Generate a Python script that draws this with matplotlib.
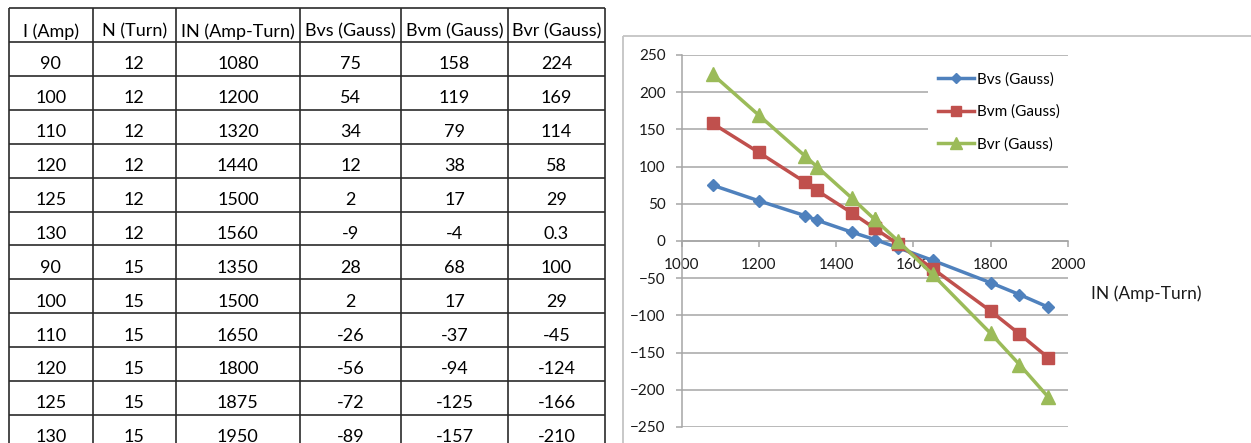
import numpy as np
import matplotlib
matplotlib.use("Agg")
import matplotlib.pyplot as plt

plt.rcParams['font.family'] = ['Lato', 'DejaVu Sans']

# ---------------- data ----------------
headers = ["I (Amp)", "N (Turn)", "IN (Amp-Turn)", "Bvs (Gauss)", "Bvm (Gauss)", "Bvr (Gauss)"]
I_amp = [90, 100, 110, 120, 125, 130, 90, 100, 110, 120, 125, 130]
N_turn = [12, 12, 12, 12, 12, 12, 15, 15, 15, 15, 15, 15]
IN = [1080, 1200, 1320, 1440, 1500, 1560, 1350, 1500, 1650, 1800, 1875, 1950]
Bvs = [75, 54, 34, 12, 2, -9, 28, 2, -26, -56, -72, -89]
Bvm = [158, 119, 79, 38, 17, -4, 68, 17, -37, -94, -125, -157]
Bvr = [224, 169, 114, 58, 29, 0.3, 100, 29, -45, -124, -166, -210]

series_names = ["Bvs (Gauss)", "Bvm (Gauss)", "Bvr (Gauss)"]
x_ticks = [1000, 1200, 1400, 1600, 1800, 2000]
y_ticks = [250, 200, 150, 100, 50, 0, -50, -100, -150, -200, -250]
x_label = "IN (Amp-Turn)"

# ---------------- figure ----------------
W, H = 1251, 443
fig = plt.figure(figsize=(W / 100, H / 100), dpi=100)

# overlay axes in pixel coordinates for the table and chart frame
ov = fig.add_axes([0, 0, 1, 1])
ov.set_xlim(0, W)
ov.set_ylim(H, 0)
ov.axis('off')

col_edges = [9, 92.7, 175.7, 300, 401, 508, 605]
row_edges = [8, 42] + [42 + 33.9 * k for k in range(1, 13)]
line_kw = dict(color='#2b2b2b', lw=1.2, solid_capstyle='butt')
for y in row_edges:
    if y < H + 10:
        ov.plot([col_edges[0], col_edges[-1]], [y, y], **line_kw)
for x in col_edges:
    ov.plot([x, x], [row_edges[0], H + 5], **line_kw)

columns = [I_amp, N_turn, IN, Bvs, Bvm, Bvr]
centers = [(col_edges[i] + col_edges[i + 1]) / 2 for i in range(len(col_edges) - 1)]
for j, h in enumerate(headers):
    ov.text(centers[j], row_edges[1] - 10.5, h, ha='center', va='center', fontsize=13, color='black')
for i in range(len(I_amp)):
    ybot = row_edges[i + 2]
    for j, col in enumerate(columns):
        ov.text(centers[j], ybot - 11.5, f"{col[i]:g}", ha='center', va='center', fontsize=13, color='black')

# chart outer frame
frame_kw = dict(color='#c4c4c4', lw=1.3, solid_capstyle='butt')
ov.plot([622.7, 622.7], [36, H + 5], **frame_kw)
ov.plot([622.7, W + 5], [36, 36], **frame_kw)

# ---------------- chart ----------------
left_px, right_px, top_px, bot_px = 681.7, 1067.7, 55, 427
ax = fig.add_axes([left_px / W, (H - bot_px) / H, (right_px - left_px) / W, (bot_px - top_px) / H])
ax.set_xlim(1000, 2000)
ax.set_ylim(-250, 250)

grid_c = '#a6a6a6'
ax.set_yticks(y_ticks)
ax.set_xticks(x_ticks)
ax.yaxis.grid(True, color=grid_c, lw=1.1)
ax.set_axisbelow(True)
for s in ['top', 'right']:
    ax.spines[s].set_visible(False)
ax.spines['left'].set_color(grid_c)
ax.spines['left'].set_linewidth(1.1)
ax.spines['bottom'].set_position(('data', 0))
ax.spines['bottom'].set_color(grid_c)
ax.spines['bottom'].set_linewidth(1.1)
ax.tick_params(axis='y', direction='out', length=4, width=1.1, color=grid_c, pad=7.5,
               labelsize=11, labelcolor='#1a1a1a')
ax.tick_params(axis='x', direction='out', length=4, width=1.1, color=grid_c, pad=8,
               labelsize=11, labelcolor='#1a1a1a')

order = np.argsort(IN, kind='stable')
xs = np.array(IN)[order]
styles = [
    dict(color='#4f81bd', marker='D', markersize=6.5),
    dict(color='#c0504d', marker='s', markersize=9),
    dict(color='#9bbb59', marker='^', markersize=9.5),
]
for name, vals, st in zip(series_names, [Bvs, Bvm, Bvr], styles):
    ys = np.array(vals)[order]
    ax.plot(xs, ys, lw=2.5, label=name, clip_on=False, zorder=3, **st)

leg = ax.legend(loc='upper left', bbox_to_anchor=((927.7 - left_px) / (right_px - left_px), (bot_px - 62) / (bot_px - top_px)),
                borderaxespad=0, frameon=True, fancybox=False, fontsize=11, handlelength=2.4,
                handletextpad=0.2, labelspacing=1.2, borderpad=0.65, markerscale=0.85)
leg.get_frame().set_facecolor('white')
leg.get_frame().set_edgecolor('none')
leg.get_frame().set_alpha(1)

ov.text(1091, 294, x_label, ha='left', va='center', fontsize=12.5, color='#1a1a1a')

fig.savefig("out.png", dpi=100)
